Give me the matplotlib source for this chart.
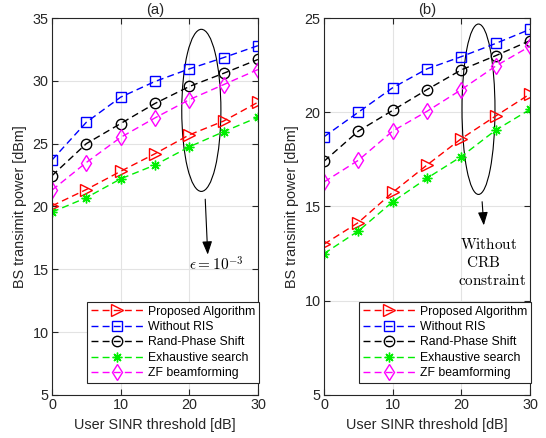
import matplotlib
matplotlib.use("Agg")
import matplotlib.pyplot as plt
from matplotlib.patches import Ellipse

plt.rcParams["font.family"] = ["Liberation Sans", "DejaVu Sans"]
plt.rcParams["mathtext.fontset"] = "cm"

sinr = [0, 5, 10, 15, 20, 25, 30]
labels = ["Proposed Algorithm", "Without RIS", "Rand-Phase Shift",
          "Exhaustive search", "ZF beamforming"]

# panel (a): epsilon = 1e-3
a_prop = [20.05, 21.35, 22.8, 24.2, 25.7, 26.8, 28.3]
a_noris = [23.7, 26.7, 28.7, 29.95, 30.95, 31.85, 32.8]
a_rand = [22.45, 25.0, 26.6, 28.2, 29.55, 30.6, 31.7]
a_exh = [19.55, 20.7, 22.2, 23.3, 24.75, 25.95, 27.1]
a_zf = [21.3, 23.5, 25.5, 27.05, 28.5, 29.7, 30.9]

# panel (b): without CRB constraint
b_prop = [13.0, 14.15, 15.75, 17.2, 18.6, 19.8, 20.97]
b_noris = [18.7, 20.0, 21.3, 22.3, 22.95, 23.65, 24.4]
b_rand = [17.4, 19.0, 20.1, 21.2, 22.25, 23.0, 23.8]
b_exh = [12.5, 13.7, 15.25, 16.5, 17.65, 19.05, 20.15]
b_zf = [16.3, 17.45, 19.0, 20.05, 21.2, 22.45, 23.5]

styles = [
    dict(color="#ff0000", marker=">", ms=8),
    dict(color="#0000ff", marker="s", ms=7),
    dict(color="#000000", marker="o", ms=7.5),
    dict(color="#00ee00", marker=(8, 2, 0), ms=7),   # MATLAB-style asterisk
    dict(color="#ff00ff", marker="d", ms=8),
]

TXT = "#262626"

fig = plt.figure(figsize=(5.46, 4.38), dpi=100)
fig.patch.set_facecolor("white")
ax_a = fig.add_axes([0.0952, 0.0982, 0.3773, 0.8607])
ax_b = fig.add_axes([0.5934, 0.0982, 0.3773, 0.8607])

panels = [
    (ax_a, [a_prop, a_noris, a_rand, a_exh, a_zf], "(a)", (5, 35)),
    (ax_b, [b_prop, b_noris, b_rand, b_exh, b_zf], "(b)", (5, 25)),
]

for ax, series, title, ylim in panels:
    for ys, lab, st in zip(series, labels, styles):
        ax.plot(sinr, ys, ls=(0, (5, 3)), lw=1.0, color=st["color"],
                marker=st["marker"], ms=st["ms"], mfc="none",
                mec=st["color"], mew=1.0, label=lab)
    ax.set_xlim(0, 30)
    ax.set_ylim(*ylim)
    ax.set_xticks([0, 10, 20, 30])
    ax.set_yticks(range(5, ylim[1] + 1, 5))
    ax.grid(True, color="#e3e3e3", lw=0.8)
    ax.set_axisbelow(True)
    ax.tick_params(direction="in", top=True, right=True, labelsize=10.4,
                   colors=TXT, length=4, pad=2.5)
    for sp in ax.spines.values():
        sp.set_color(TXT)
        sp.set_linewidth(0.8)
    ax.set_title(title, fontsize=10.6, color=TXT, pad=3)
    ax.set_xlabel("User SINR threshold [dB]", fontsize=10.4, color=TXT,
                  labelpad=4)
    ax.set_ylabel("BS transimit power [dBm]", fontsize=10.4, color=TXT,
                  labelpad=4)
    leg = ax.legend(loc="lower right", bbox_to_anchor=(1.006, 0.032),
                    fontsize=8.8, handlelength=4.3,
                    fancybox=False, edgecolor=TXT, framealpha=1,
                    borderpad=0.3, labelspacing=0.28, handletextpad=0.4,
                    borderaxespad=0.0)
    leg.get_frame().set_linewidth(0.8)

# annotations, panel (a)
ax_a.add_patch(Ellipse((21.75, 27.65), 5.7, 12.9, fill=False, ec="black", lw=0.8))
ax_a.annotate("", xy=(22.7, 15.95), xytext=(22.3, 20.8),
              arrowprops=dict(arrowstyle="-|>,head_length=0.8,head_width=0.3",
                              color="black", lw=0.8))
ax_a.text(23.9, 15.4, r"$\epsilon=10^{-3}$", ha="center", va="center", fontsize=11)

# annotations, panel (b)
ax_b.add_patch(Ellipse((22.5, 20.16), 4.8, 9.04, fill=False, ec="black", lw=0.8))
ax_b.annotate("", xy=(23.3, 13.85), xytext=(23.0, 15.4),
              arrowprops=dict(arrowstyle="-|>,head_length=0.8,head_width=0.3",
                              color="black", lw=0.8))
ax_b.text(24.0, 13.0, r"$\mathrm{Without}$", ha="center", va="center", fontsize=11)
ax_b.text(23.2, 12.05, r"$\mathrm{CRB}$", ha="center", va="center", fontsize=11)
ax_b.text(24.5, 11.1, r"$\mathrm{constraint}$", ha="center", va="center", fontsize=11)

fig.savefig("out.png", dpi=100, facecolor="white")
